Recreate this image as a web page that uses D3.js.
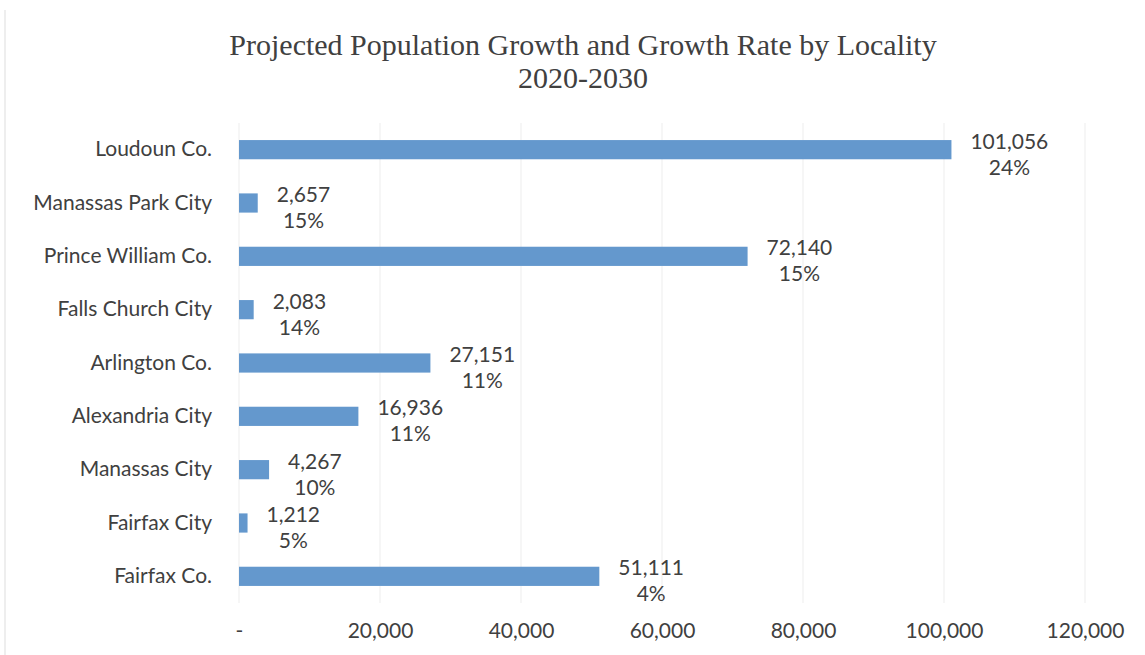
<html>
<head>
<script src="https://d3js.org/d3.v7.min.js"></script>
<style>
  body { margin: 0; background: #fff; }
  text { fill: #404040; }
</style>
</head>
<body>
<div id="chart"></div>
<script>
  // data
  const localities = ["Loudoun Co.", "Manassas Park City", "Prince William Co.", "Falls Church City",
      "Arlington Co.", "Alexandria City", "Manassas City", "Fairfax City", "Fairfax Co."];
  const growth = [101056, 2657, 72140, 2083, 27151, 16936, 4267, 1212, 51111];
  const rate = ["24%", "15%", "15%", "14%", "11%", "11%", "10%", "5%", "4%"];
  const xTicks = [0, 20000, 40000, 60000, 80000, 100000, 120000];

  const W = 1145, H = 655;
  const margin = {top: 123, right: 60, bottom: 52, left: 239};
  const font = "Lato, 'Open Sans', sans-serif";

  const svg = d3.select("#chart").append("svg")
      .attr("width", W).attr("height", H);

  // faint frame of the chart area
  svg.append("line").attr("x1", 5).attr("x2", 5).attr("y1", 10).attr("y2", H)
      .attr("stroke", "#eeeeee").attr("stroke-width", 2);

  // title
  const title = svg.append("text")
      .attr("text-anchor", "middle")
      .style("font-family", "'Liberation Serif', 'Times New Roman', serif")
      .style("font-size", "30px");
  title.append("tspan").attr("x", 583).attr("y", 55).text("Projected Population Growth and Growth Rate by Locality");
  title.append("tspan").attr("x", 583).attr("y", 88).text("2020-2030");

  const x = d3.scaleLinear().domain([0, 120000]).range([margin.left, 1085]);
  const y = d3.scaleBand().domain(localities)
      .range([margin.top, H - margin.bottom]).paddingInner(0.64).paddingOuter(0.32);

  // gridlines
  svg.append("g").selectAll("line").data(xTicks).join("line")
      .attr("x1", d => x(d)).attr("x2", d => x(d))
      .attr("y1", margin.top).attr("y2", H - margin.bottom)
      .attr("stroke", "#f3f3f3").attr("stroke-width", 1.5);

  // x axis labels
  const xAxis = svg.append("g")
      .attr("transform", `translate(0, ${H - margin.bottom})`)
      .call(d3.axisBottom(x).tickValues(xTicks).tickSize(0).tickPadding(20)
          .tickFormat(d => d === 0 ? "-" : d3.format(",")(d)));
  xAxis.select(".domain").remove();
  xAxis.selectAll("text")
      .style("font-family", font).style("font-size", "21px").attr("fill", "#404040");

  // y axis labels
  const yAxis = svg.append("g")
      .attr("transform", `translate(${margin.left}, 0)`)
      .call(d3.axisLeft(y).tickSize(0).tickPadding(27));
  yAxis.select(".domain").remove();
  yAxis.selectAll("text")
      .style("font-family", font).style("font-size", "21px").attr("fill", "#404040");

  // bars
  svg.append("g").selectAll("rect").data(localities).join("rect")
      .attr("x", x(0))
      .attr("y", d => y(d))
      .attr("width", (d, i) => x(growth[i]) - x(0))
      .attr("height", y.bandwidth())
      .attr("fill", "#6498cd");

  // value labels: number over rate, block starting after the bar end
  const fmt = d3.format(",");
  localities.forEach((d, i) => {
    const cy = y(d) + y.bandwidth() / 2;
    const g = svg.append("g")
        .style("font-family", font).style("font-size", "21px");
    const t1 = g.append("text").attr("text-anchor", "middle").attr("y", cy - 1).text(fmt(growth[i]));
    const t2 = g.append("text").attr("text-anchor", "middle").attr("y", cy + 25).text(rate[i]);
    const w = Math.max(t1.node().getComputedTextLength(), t2.node().getComputedTextLength());
    const cx = x(growth[i]) + 19 + w / 2;
    t1.attr("x", cx);
    t2.attr("x", cx);
  });
</script>
</body>
</html>
